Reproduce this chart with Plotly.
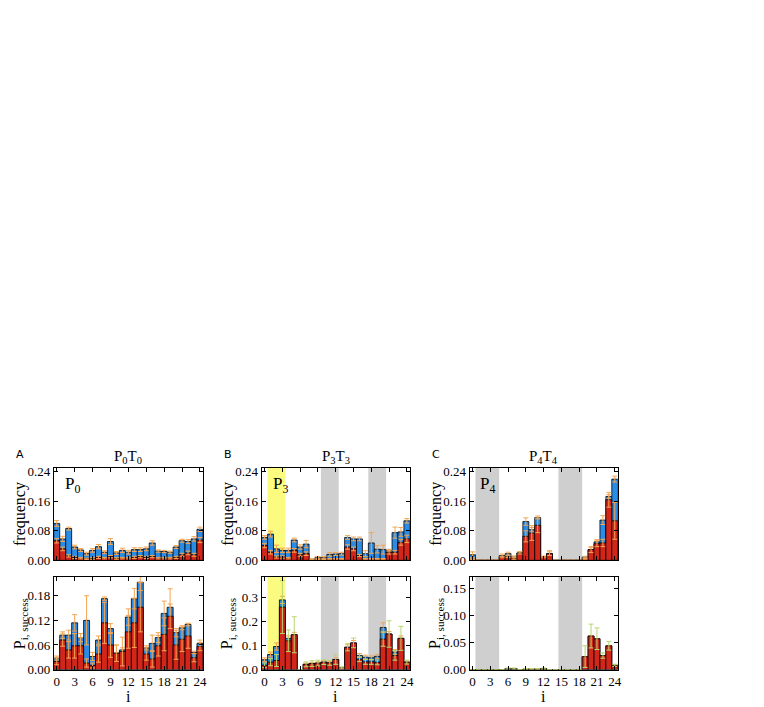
import plotly.graph_objects as go

# horizontal page offset observed when the page is photographed
OFFX, OFFY = 8, 0
W, H = 764 - 2 * OFFX, 707 - OFFY
idx = list(range(25))

# ---------------- Panel A (P0T0) ----------------
A_freq_total = [0.100, 0.058, 0.086, 0.036, 0.028, 0.018, 0.027, 0.037, 0.022, 0.051, 0.020, 0.027, 0.022,
                0.029, 0.029, 0.031, 0.047, 0.025, 0.024, 0.022, 0.036, 0.053, 0.051, 0.058, 0.084]
A_freq_total_err = [0.008, 0.007, 0.004, 0.005, 0.004, 0.004, 0.005, 0.006, 0.004, 0.008, 0.004, 0.006, 0.005,
                    0.005, 0.005, 0.005, 0.006, 0.003, 0.003, 0.003, 0.004, 0.004, 0.005, 0.006, 0.006]
A_freq_red = [0.053, 0.031, 0.012, 0.008, 0.006, 0.004, 0.005, 0.008, 0.006, 0.010, 0.005, 0.006, 0.006,
              0.008, 0.010, 0.008, 0.010, 0.006, 0.006, 0.006, 0.008, 0.015, 0.020, 0.015, 0.055]
A_freq_red_err = [0.006, 0.005, 0.003, 0.003, 0.002, 0.002, 0.002, 0.003, 0.002, 0.003, 0.002, 0.002, 0.002,
                  0.003, 0.003, 0.003, 0.003, 0.002, 0.002, 0.002, 0.003, 0.004, 0.005, 0.004, 0.007]
A_succ_total = [0.028, 0.084, 0.084, 0.114, 0.078, 0.120, 0.032, 0.072, 0.173, 0.100, 0.040, 0.048, 0.128,
                0.173, 0.213, 0.053, 0.064, 0.078, 0.137, 0.152, 0.090, 0.102, 0.110, 0.042, 0.064]
A_succ_total_err = [0.005, 0.008, 0.012, 0.020, 0.010, 0.060, 0.010, 0.010, 0.004, 0.012, 0.020, 0.005, 0.020,
                    0.025, 0.020, 0.005, 0.020, 0.012, 0.030, 0.045, 0.010, 0.005, 0.003, 0.003, 0.008]
A_succ_red = [0.020, 0.072, 0.048, 0.058, 0.058, 0.016, 0.010, 0.038, 0.114, 0.060, 0.040, 0.044, 0.092,
              0.114, 0.152, 0.038, 0.026, 0.058, 0.086, 0.130, 0.060, 0.074, 0.082, 0.029, 0.056]
A_succ_red_err = [0.008, 0.015, 0.020, 0.030, 0.020, 0.010, 0.006, 0.020, 0.050, 0.030, 0.020, 0.035, 0.040,
                  0.060, 0.060, 0.015, 0.020, 0.025, 0.040, 0.030, 0.035, 0.030, 0.030, 0.010, 0.010]

# ---------------- Panel B (P3T3) ----------------
B_freq_total = [0.062, 0.071, 0.031, 0.027, 0.027, 0.055, 0.036, 0.044, 0.003, 0.008, 0.007, 0.016, 0.017,
                0.018, 0.062, 0.058, 0.058, 0.018, 0.047, 0.030, 0.029, 0.027, 0.075, 0.077, 0.107]
B_freq_total_err = [0.005, 0.008, 0.010, 0.006, 0.006, 0.005, 0.006, 0.010, 0.001, 0.002, 0.003, 0.005, 0.004,
                    0.004, 0.005, 0.005, 0.005, 0.008, 0.028, 0.010, 0.012, 0.003, 0.015, 0.012, 0.006]
B_freq_red = [0.040, 0.022, 0.009, 0.009, 0.006, 0.027, 0.015, 0.018, 0.002, 0.003, 0.003, 0.004, 0.004,
              0.004, 0.036, 0.031, 0.013, 0.004, 0.004, 0.004, 0.004, 0.022, 0.022, 0.049, 0.058]
B_freq_red_err = [0.006, 0.005, 0.003, 0.003, 0.002, 0.005, 0.004, 0.005, 0.001, 0.001, 0.001, 0.001, 0.001,
                  0.001, 0.006, 0.005, 0.003, 0.001, 0.001, 0.001, 0.001, 0.005, 0.005, 0.008, 0.010]
B_succ_total = [0.041, 0.063, 0.096, 0.290, 0.130, 0.145, 0.000, 0.022, 0.025, 0.027, 0.031, 0.028, 0.042,
                0.007, 0.093, 0.111, 0.059, 0.052, 0.049, 0.055, 0.175, 0.148, 0.073, 0.130, 0.031]
B_succ_total_err = [0.008, 0.010, 0.015, 0.015, 0.010, 0.010, 0.000, 0.005, 0.005, 0.005, 0.005, 0.005, 0.008,
                    0.003, 0.010, 0.010, 0.008, 0.008, 0.008, 0.008, 0.020, 0.010, 0.010, 0.010, 0.005]
B_succ_red = [0.018, 0.031, 0.038, 0.260, 0.120, 0.145, 0.000, 0.022, 0.025, 0.027, 0.031, 0.028, 0.042,
              0.007, 0.093, 0.111, 0.043, 0.032, 0.032, 0.030, 0.127, 0.148, 0.059, 0.130, 0.031]
B_succ_red_err = [0.010, 0.015, 0.025, 0.110, 0.045, 0.075, 0.000, 0.010, 0.012, 0.012, 0.010, 0.010, 0.020,
                  0.004, 0.015, 0.020, 0.010, 0.010, 0.010, 0.010, 0.030, 0.055, 0.020, 0.050, 0.008]

# ---------------- Panel C (P4T4) ----------------
C_freq_total = [0.015, 0.000, 0.000, 0.000, 0.000, 0.013, 0.018, 0.009, 0.020, 0.105, 0.083, 0.116, 0.009,
                0.018, 0.000, 0.000, 0.000, 0.000, 0.000, 0.009, 0.029, 0.050, 0.109, 0.173, 0.220]
C_freq_total_err = [0.008, 0.000, 0.000, 0.000, 0.000, 0.004, 0.004, 0.003, 0.004, 0.010, 0.006, 0.004, 0.002,
                    0.008, 0.000, 0.000, 0.000, 0.000, 0.000, 0.002, 0.006, 0.006, 0.012, 0.005, 0.008]
C_freq_red = [0.003, 0.000, 0.000, 0.000, 0.000, 0.009, 0.010, 0.005, 0.020, 0.065, 0.074, 0.095, 0.009,
              0.018, 0.000, 0.000, 0.000, 0.000, 0.000, 0.004, 0.029, 0.045, 0.047, 0.164, 0.107]
C_freq_red_err = [0.001, 0.000, 0.000, 0.000, 0.000, 0.002, 0.002, 0.002, 0.003, 0.015, 0.020, 0.020, 0.002,
                  0.005, 0.000, 0.000, 0.000, 0.000, 0.000, 0.001, 0.008, 0.008, 0.010, 0.020, 0.050]
C_succ_total = [0.000, 0.000, 0.000, 0.000, 0.000, 0.000, 0.002, 0.002, 0.000, 0.001, 0.001, 0.001, 0.002,
                0.000, 0.000, 0.000, 0.000, 0.000, 0.000, 0.024, 0.062, 0.057, 0.026, 0.044, 0.008]
C_succ_total_err = [0.000] * 25
C_succ_red = [0.000, 0.000, 0.000, 0.000, 0.000, 0.000, 0.002, 0.002, 0.000, 0.001, 0.001, 0.001, 0.002,
              0.000, 0.000, 0.000, 0.000, 0.000, 0.000, 0.024, 0.062, 0.057, 0.026, 0.044, 0.008]
C_succ_red_err = [0.000, 0.000, 0.000, 0.000, 0.000, 0.000, 0.001, 0.001, 0.000, 0.001, 0.001, 0.001, 0.001,
                  0.000, 0.000, 0.000, 0.000, 0.000, 0.000, 0.020, 0.022, 0.020, 0.005, 0.008, 0.002]

titles = ["P<sub>0</sub>T<sub>0</sub>", "P<sub>3</sub>T<sub>3</sub>", "P<sub>4</sub>T<sub>4</sub>"]
letters = ["A", "B", "C"]
inner_labels = ["P<sub>0</sub>", "P<sub>3</sub>", "P<sub>4</sub>"]
xticks = list(range(0, 25, 3))

BLUE = "#2b8ce6"
RED = "#d3261b"
ORANGE = "#f3a553"
GREEN = "#b9d66f"
FONT = "Liberation Serif"

# panel pixel geometry (page pixels)
col_px = [(54, 204), (263, 412), (472, 621)]
row_px = [(464, 558), (575, 669)]

def px(x):
    return (x - OFFX) / W

def py(y):
    return 1 - (y - OFFY) / H

def xd(p):
    return [px(p[0]), px(p[1])]

def yd(p):
    return [py(p[1]), py(p[0])]

panels = [
    (0, 0, A_freq_total, A_freq_total_err, A_freq_red, A_freq_red_err, [0, 0.2507], [0, 0.08, 0.16, 0.24],
     ["0.00", "0.08", "0.16", "0.24"], ORANGE),
    (0, 1, A_succ_total, A_succ_total_err, A_succ_red, A_succ_red_err, [0, 0.2256], [0, 0.06, 0.12, 0.18],
     ["0.00", "0.06", "0.12", "0.18"], ORANGE),
    (1, 0, B_freq_total, B_freq_total_err, B_freq_red, B_freq_red_err, [0, 0.2507], [0, 0.08, 0.16, 0.24],
     ["0.00", "0.08", "0.16", "0.24"], ORANGE),
    (1, 1, B_succ_total, B_succ_total_err, B_succ_red, B_succ_red_err, [0, 0.385], [0, 0.1, 0.2, 0.3],
     ["0.0", "0.1", "0.2", "0.3"], GREEN),
    (2, 0, C_freq_total, C_freq_total_err, C_freq_red, C_freq_red_err, [0, 0.2507], [0, 0.08, 0.16, 0.24],
     ["0.00", "0.08", "0.16", "0.24"], ORANGE),
    (2, 1, C_succ_total, C_succ_total_err, C_succ_red, C_succ_red_err, [0, 0.171], [0, 0.05, 0.10, 0.15],
     ["0.00", "0.05", "0.10", "0.15"], GREEN),
]

shade = {
    0: [],
    1: [(0.5, 3.5, "#fbfb80"), (9.5, 12.5, "#cfcfcf"), (17.5, 20.5, "#cfcfcf")],
    2: [(0.5, 4.5, "#cfcfcf"), (14.5, 18.5, "#cfcfcf")],
}

fig = go.Figure()
layout = dict(
    width=W, height=H, margin=dict(l=0, r=0, t=0, b=0),
    paper_bgcolor="white", plot_bgcolor="white",
    barmode="overlay", showlegend=False,
    font=dict(family=FONT, size=13, color="black"),
)
annotations = []
shapes = []

for k, (c, r, tot, tot_e, red, red_e, yr, yt, ytt, rcol) in enumerate(panels):
    n = k + 1
    xa = "x" if n == 1 else f"x{n}"
    ya = "y" if n == 1 else f"y{n}"
    fig.add_trace(go.Bar(
        x=idx, y=tot, width=1.0, xaxis=xa, yaxis=ya,
        marker=dict(color=BLUE, line=dict(color="black", width=0.8)),
        error_y=dict(type="data", array=tot_e, color=ORANGE, thickness=1, width=2.5),
    ))
    fig.add_trace(go.Bar(
        x=idx, y=red, width=1.0, xaxis=xa, yaxis=ya,
        marker=dict(color=RED, line=dict(color="black", width=0.8)),
        error_y=dict(type="data", array=red_e, color=rcol, thickness=1, width=2.5),
    ))
    axkey_x = "xaxis" if n == 1 else f"xaxis{n}"
    axkey_y = "yaxis" if n == 1 else f"yaxis{n}"
    xaxis = dict(
        domain=xd(col_px[c]), anchor=ya, range=[-0.5, 24.5],
        tickmode="array", tickvals=xticks,
        ticks="inside", ticklen=4, tickwidth=0.8, tickcolor="black",
        showline=True, linecolor="black", linewidth=1, mirror="ticks",
        showgrid=False, zeroline=False, fixedrange=True,
    )
    if r == 1:
        xaxis.update(ticktext=[str(v) for v in xticks], showticklabels=True,
                     tickfont=dict(family=FONT, size=13))
    else:
        xaxis.update(showticklabels=False)
    layout[axkey_x] = xaxis
    layout[axkey_y] = dict(
        domain=yd(row_px[r]), anchor=xa, range=yr,
        tickmode="array", tickvals=yt, ticktext=ytt,
        ticks="inside", ticklen=4, tickwidth=0.8, tickcolor="black",
        showline=True, linecolor="black", linewidth=1, mirror="ticks",
        showgrid=False, zeroline=False, fixedrange=True,
        tickfont=dict(family=FONT, size=13),
    )
    for (x0, x1, col) in shade[c]:
        shapes.append(dict(type="rect", xref=xa, yref=f"{ya} domain", x0=x0, x1=x1, y0=0, y1=1,
                           fillcolor=col, line=dict(width=0), layer="below"))
    cx = px((col_px[c][0] + col_px[c][1]) / 2)
    yc = py((row_px[r][0] + row_px[r][1]) / 2)
    annotations.append(dict(
        xref="paper", yref="paper", x=px(col_px[c][0] - 34), y=yc,
        text="frequency" if r == 0 else "P<sub>i, success</sub>",
        textangle=-90, showarrow=False, xanchor="center", yanchor="middle",
        font=dict(family=FONT, size=16),
    ))
    if r == 0:
        annotations.append(dict(xref="paper", yref="paper", x=cx, y=py(453), text=titles[c],
                                showarrow=False, xanchor="center", yanchor="middle",
                                font=dict(family=FONT, size=15)))
        annotations.append(dict(xref="paper", yref="paper", x=px(col_px[c][0] - 40), y=py(451),
                                text=letters[c], showarrow=False, xanchor="left", yanchor="middle",
                                font=dict(family="DejaVu Sans", size=11)))
        annotations.append(dict(xref="paper", yref="paper", x=px(col_px[c][0] + 9), y=py(481),
                                text=inner_labels[c], showarrow=False, xanchor="left", yanchor="middle",
                                font=dict(family=FONT, size=17)))
    else:
        annotations.append(dict(xref="paper", yref="paper", x=cx, y=py(686), text="i",
                                showarrow=False, xanchor="center", yanchor="top",
                                font=dict(family=FONT, size=16)))

layout["annotations"] = annotations
layout["shapes"] = shapes
fig.update_layout(**layout)
fig.write_html("out.html")
